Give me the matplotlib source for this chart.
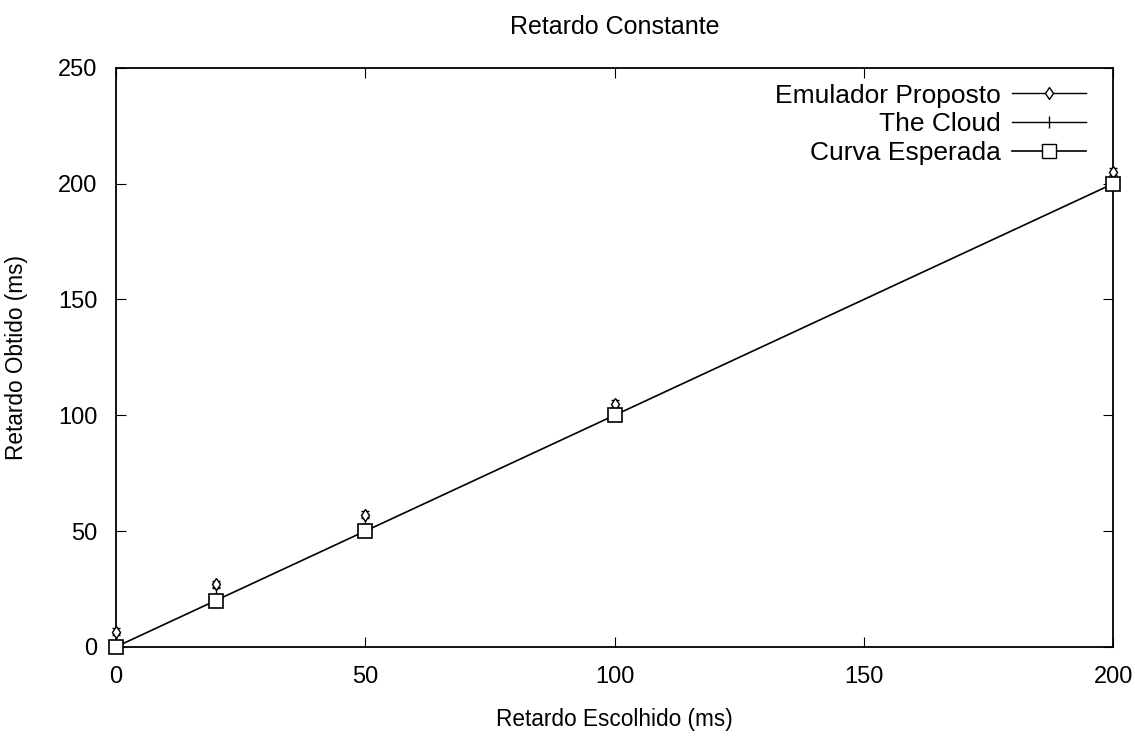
import numpy as np
import matplotlib
matplotlib.use('Agg')
import matplotlib.pyplot as plt
from matplotlib.lines import Line2D

# delays chosen (ms)
x_vals = [0, 20, 50, 100, 200]
# measured delays (ms)
emulador = [6.5, 27, 57, 105, 205]
emulador_err = [1.5, 1.5, 1.5, 1.5, 1.5]
cloud = [4, 24, 54, 103, 203]
cloud_err = [2, 2, 2, 2, 2]
esperada = [0, 20, 50, 100, 200]

labels = ['Emulador Proposto', 'The Cloud', 'Curva Esperada']
x_ticks = [0, 50, 100, 150, 200]
y_ticks = [0, 50, 100, 150, 200, 250]

plt.rcParams['font.family'] = ['Liberation Sans', 'DejaVu Sans']

fig = plt.figure(figsize=(11.35, 7.36), dpi=100)
ax = fig.add_axes([0.102, 0.121, 0.879, 0.787])

e1 = ax.errorbar(x_vals, emulador, yerr=emulador_err, fmt='d', mfc='white', mec='black',
                 ms=6, mew=1, ecolor='black', elinewidth=1, capsize=3, zorder=3)
e2 = ax.errorbar(x_vals, cloud, yerr=cloud_err, fmt='none', ecolor='black',
                 elinewidth=1, capsize=3, zorder=3)
for cont in (e1, e2):
    for art in cont.get_children():
        art.set_clip_on(False)
ax.plot(x_vals, esperada, color='black', lw=1.2, marker='s', ms=10,
        mfc='white', mec='black', mew=1.2, zorder=4, clip_on=False)

ax.set_xlim(0, 200)
ax.set_ylim(0, 250)
ax.set_xticks(x_ticks)
ax.set_yticks(y_ticks)
ax.tick_params(direction='in', top=True, right=True, length=7, labelsize=17)
ax.tick_params(axis='x', pad=14)
ax.tick_params(axis='y', pad=13)
for s in ax.spines.values():
    s.set_linewidth(1.3)

ax.set_xlabel('Retardo Escolhido (ms)', fontsize=16.3, labelpad=14)
ax.set_ylabel('Retardo Obtido (ms)', fontsize=16.3, labelpad=22)
ax.set_title('Retardo Constante', fontsize=18, pad=24)

handles = [
    Line2D([0], [0], color='black', lw=1, marker='d', ms=6, mfc='white', mec='black'),
    Line2D([0], [0], color='black', lw=1, marker='|', ms=8),
    Line2D([0], [0], color='black', lw=1.2, marker='s', ms=10, mfc='white', mec='black'),
]
ax.legend(handles, labels, loc='upper right', frameon=False, markerfirst=False,
          fontsize=19, handlelength=2.8, handletextpad=0.4, labelspacing=0.18,
          borderaxespad=0.2, bbox_to_anchor=(0.988, 1.0))

fig.savefig('out.png', dpi=100)
